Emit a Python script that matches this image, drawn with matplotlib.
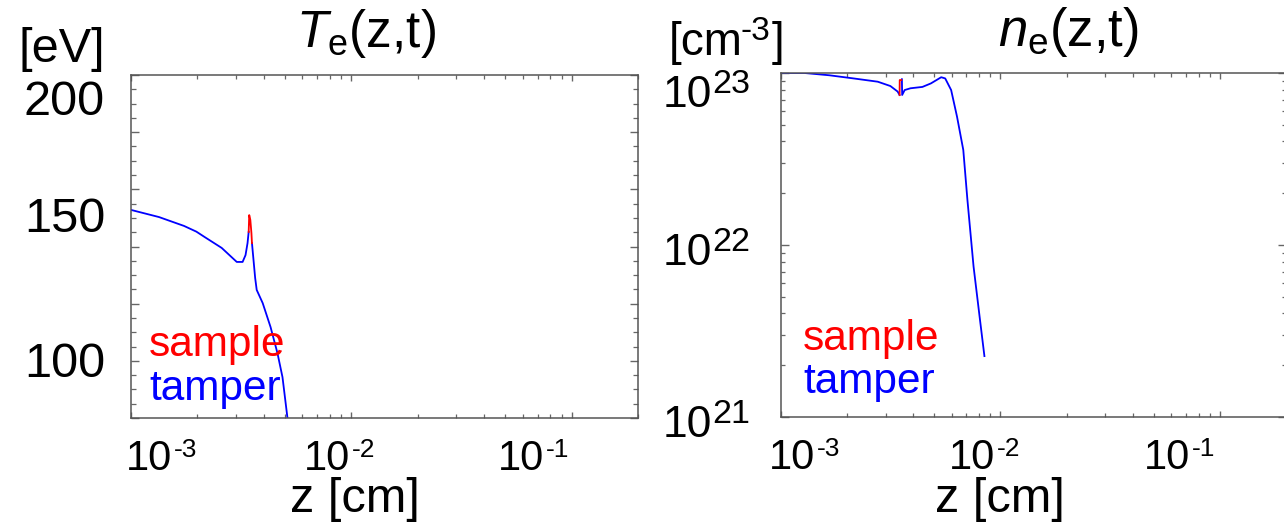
import numpy as np
import matplotlib
matplotlib.use("Agg")
import matplotlib.pyplot as plt
from matplotlib.ticker import MultipleLocator, LogLocator, NullFormatter

#########################################
#FONTS
#########################################
plt.rcParams['font.family'] = ['Liberation Sans', 'DejaVu Sans']
plt.rcParams['mathtext.fontset'] = 'custom'
plt.rcParams['mathtext.rm'] = 'Liberation Sans'
plt.rcParams['mathtext.it'] = 'Liberation Sans:italic'
plt.rcParams['mathtext.bf'] = 'Liberation Sans:bold'

#########################################
#DATA
#########################################
#ELECTRON TEMPERATURE [eV] vs z [cm]
te_tamper_z = [1.0e-3, 1.34e-3, 1.74e-3, 1.98e-3, 2.16e-3, 2.58e-3, 3.02e-3, 3.21e-3,
               3.31e-3, 3.38e-3, 3.42e-3, np.nan, 3.54e-3, 3.66e-3, 3.72e-3, 3.96e-3,
               4.30e-3, 4.62e-3, 4.87e-3, 5.13e-3, 5.30e-3]
te_tamper = [152.8, 150.3, 147.2, 145.2, 143.3, 139.5, 134.6, 134.6,
             137.0, 141.2, 145.1, np.nan, 141.2, 129.0, 124.8, 120.2,
             111.8, 102.7, 94.3, 80.0, 75.0]
te_sample_z = [3.42e-3, 3.44e-3, 3.48e-3, 3.52e-3, 3.54e-3]
te_sample = [145.1, 151.0, 149.3, 144.7, 141.2]

#ELECTRON DENSITY [cm^-3] vs z [cm]
ne_tamper_z = [1.0e-3, 1.28e-3, 1.66e-3, 2.14e-3, 2.76e-3, 3.15e-3, 3.40e-3, 3.47e-3,
               np.nan, 3.555e-3, 3.565e-3, 3.66e-3, 3.89e-3, 4.41e-3, 4.82e-3, 5.37e-3,
               5.60e-3, 5.96e-3, 6.34e-3, 6.77e-3, 7.07e-3, 7.54e-3, 8.04e-3, 8.45e-3]
ne_tamper = [1.0e23, 1.0e23, 9.7e22, 9.3e22, 8.9e22, 8.4e22, 7.8e22, 7.45e22,
             np.nan, 9.2e22, 7.45e22, 7.96e22, 8.15e22, 8.3e22, 8.7e22, 9.45e22,
             9.3e22, 7.96e22, 5.57e22, 3.57e22, 1.83e22, 7.5e21, 3.8e21, 2.26e21]
ne_sample_z = [3.47e-3, 3.475e-3, 3.53e-3]
ne_sample = [7.45e22, 9.1e22, 9.1e22]

#TICK LABELS (base, exponent)
xtick_exp = ['-3', '-2', '-1']
te_tick_labels = ['200', '150', '100']
ne_tick_exp = ['23', '22', '21']

#########################################
#FIGURE
#########################################
W, H = 1284, 524
fig = plt.figure(figsize=(W/100, H/100), dpi=100)

def px(x, y):
    return x/W, 1 - y/H

def power_label(xr, yb, exp, fs, sfs, rise, gap=2):
    #"10" ending at xr, exponent raised next to it
    fig.text(*px(xr, yb), '10', fontsize=fs, ha='right', va='baseline')
    fig.text(*px(xr + gap, yb - rise), exp, fontsize=sfs, ha='left', va='baseline')

def style(ax):
    for s in ax.spines.values():
        s.set_color('#555555')
        s.set_linewidth(1.1)
    ax.tick_params(which='both', direction='in', top=True, right=True,
                   color='#666666', labelbottom=False, labelleft=False)
    ax.tick_params(which='major', length=5, width=1.0)
    ax.tick_params(which='minor', length=2.8, width=0.9)

#########################################
#LEFT PANEL : Te
#########################################
ax1 = fig.add_axes([131/W, 1 - 418/H, 507/W, 343/H])
ax1.set_xscale('log')
ax1.set_xlim(1e-3, 0.2)
ax1.set_ylim(80, 200)
ax1.yaxis.set_major_locator(MultipleLocator(20))
ax1.yaxis.set_minor_locator(MultipleLocator(5))
ax1.xaxis.set_minor_locator(LogLocator(base=10, subs=np.arange(2, 10)))
ax1.xaxis.set_minor_formatter(NullFormatter())
style(ax1)
ax1.tick_params(axis='y', which='major', length=6)
ax1.tick_params(axis='y', which='minor', length=3.3)
ax1.tick_params(axis='x', which='major', length=4.5)
ax1.plot(te_tamper_z, te_tamper, color='#0000ff', lw=1.3)
ax1.plot(te_sample_z, te_sample, color='#ff0000', lw=1.3)

#########################################
#RIGHT PANEL : ne
#########################################
ax2 = fig.add_axes([781/W, 1 - 417/H, 505/W, 344/H])
ax2.set_xscale('log')
ax2.set_yscale('log')
ax2.set_xlim(1e-3, 0.2)
ax2.set_ylim(1e21, 1e23)
ax2.xaxis.set_minor_locator(LogLocator(base=10, subs=np.arange(2, 10)))
ax2.yaxis.set_minor_locator(LogLocator(base=10, subs=np.arange(2, 10)))
ax2.xaxis.set_minor_formatter(NullFormatter())
ax2.yaxis.set_minor_formatter(NullFormatter())
style(ax2)
ax2.tick_params(axis='y', which='major', length=6)
ax2.tick_params(axis='x', which='major', length=4.5)
ax2.plot(ne_tamper_z, ne_tamper, color='#0000ff', lw=1.3)
ax2.plot(ne_sample_z, ne_sample, color='#ff0000', lw=1.3)

#########################################
#TEXTS
#########################################
#TITLES AND UNITS
fig.text(*px(366, 47), r'$T_{\mathregular{e}}$(z,t)', fontsize=37, ha='center', va='baseline')
fig.text(*px(1068, 46), r'$n_{\mathregular{e}}$(z,t)', fontsize=38, ha='center', va='baseline')
fig.text(*px(19, 62), '[eV]', fontsize=35, ha='left', va='baseline')
fig.text(*px(669, 55), '[cm', fontsize=33, ha='left', va='baseline')
fig.text(*px(741, 40), '-3', fontsize=24, ha='left', va='baseline')
fig.text(*px(772, 55), ']', fontsize=33, ha='left', va='baseline')

#Y TICK LABELS
for lab, y in zip(te_tick_labels, [115, 232, 377]):
    fig.text(*px(105, y), lab, fontsize=35, ha='right', va='baseline')
for exp, y in zip(ne_tick_exp, [107, 265, 437]):
    power_label(712, y, exp, 32, 24.5, 14, gap=0)

#X TICK LABELS AND AXIS LABELS
for exp, x in zip(xtick_exp, [172, 350, 544]):
    power_label(x, 470, exp, 30, 19, 13)
for exp, x in zip(xtick_exp, [815, 995, 1190]):
    power_label(x, 469, exp, 30, 19, 13)
fig.text(*px(355, 512), 'z [cm]', fontsize=35, ha='center', va='baseline')
fig.text(*px(1000, 512), 'z [cm]', fontsize=35, ha='center', va='baseline')

#LEGENDS
fig.text(*px(149, 356), 'sample', color='#ff0000', fontsize=30.5, ha='left', va='baseline')
fig.text(*px(149, 400), 'tamper', color='#0000ff', fontsize=30.5, ha='left', va='baseline')
fig.text(*px(803, 350), 'sample', color='#ff0000', fontsize=30.5, ha='left', va='baseline')
fig.text(*px(803, 393), 'tamper', color='#0000ff', fontsize=30.5, ha='left', va='baseline')

#########################################
#SAVE FIGURE
#########################################
fig.savefig("out.png", dpi=100)
